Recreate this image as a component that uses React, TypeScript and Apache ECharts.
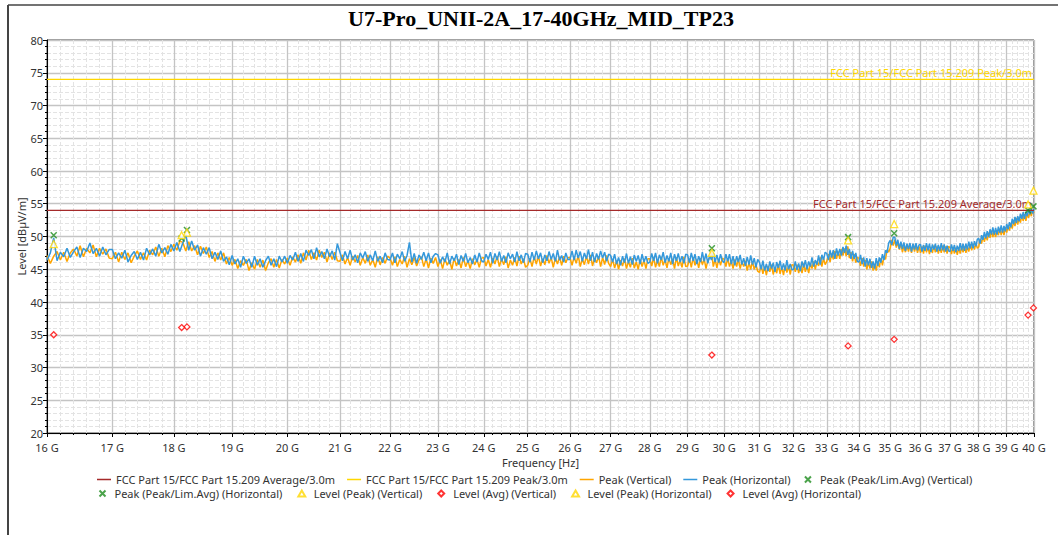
import React, { useEffect, useRef } from 'react';
import * as echarts from 'echarts';

const TITLE = 'U7-Pro_UNII-2A_17-40GHz_MID_TP23';
const X_NAME = 'Frequency [Hz]';
const Y_NAME = 'Level [dBµV/m]';

// sweep: 16 GHz .. 40 GHz, 0.05 GHz per point
const F_START_GHZ = 16;
const F_STEP_GHZ = 0.05;

const X_TICKS_GHZ = [16, 17, 18, 19, 20, 21, 22, 23, 24, 25, 26, 27, 28, 29, 30, 31, 32, 33, 34, 35, 36, 37, 38, 39, 40];
const X_MINOR_STEPS = [0.2, 0.4, 0.6, 0.8];
const Y_MIN = 20;
const Y_MAX = 80;
const Y_INTERVAL = 5;

const LIMIT_AVG_NAME = 'FCC Part 15/FCC Part 15.209 Average/3.0m';
const LIMIT_PEAK_NAME = 'FCC Part 15/FCC Part 15.209 Peak/3.0m';
const LIMIT_AVG = 54;
const LIMIT_PEAK = 74;

// Peak (Vertical) trace, one row per GHz (20 points each)
const peakVertical = [
  47.1, 45.9, 47.0, 47.7, 46.4, 47.6, 46.2, 47.5, 48.1, 47.0, 48.6, 46.9, 48.2, 47.5, 48.7, 46.9, 48.2, 47.3, 48.1, 46.7,
  46.6, 47.6, 46.1, 47.6, 46.5, 47.5, 46.0, 47.0, 47.8, 46.5, 47.5, 46.4, 47.9, 47.2, 48.4, 47.0, 48.2, 46.9, 48.6, 47.7,
  48.8, 47.9, 49.3, 49.1, 47.8, 49.2, 47.8, 48.6, 47.2, 48.5, 47.4, 48.4, 46.8, 47.7, 46.2, 47.5, 46.4, 47.5, 45.8, 46.8,
  45.6, 46.5, 45.1, 46.3, 45.6, 46.5, 44.8, 46.0, 45.0, 46.5, 45.3, 46.4, 44.8, 46.0, 46.6, 45.3, 46.5, 45.2, 46.5, 45.8,
  46.7, 45.6, 46.9, 46.1, 47.2, 45.9, 47.5, 46.4, 47.9, 46.5, 47.5, 46.4, 47.9, 46.8, 47.6, 46.1, 47.5, 46.5, 47.6, 46.3,
  46.2, 47.2, 45.8, 46.8, 45.6, 47.0, 46.1, 47.1, 45.6, 46.8, 45.9, 47.2, 45.6, 46.5, 45.3, 46.9, 45.7, 46.8, 45.9, 47.0,
  46.7, 45.6, 46.9, 45.4, 46.5, 45.8, 47.0, 45.3, 46.6, 45.7, 46.8, 45.5, 46.4, 46.9, 45.4, 46.6, 45.2, 46.7, 45.9, 46.8,
  45.4, 46.5, 45.1, 46.6, 45.6, 46.4, 45.0, 46.7, 45.5, 46.5, 45.2, 46.8, 45.4, 46.3, 45.1, 46.6, 45.7, 46.5, 45.3, 46.7,
  46.8, 45.5, 46.5, 45.3, 46.7, 45.8, 47.0, 45.4, 46.6, 45.7, 46.9, 45.2, 46.4, 45.6, 46.8, 45.5, 47.0, 45.8, 46.6, 45.3,
  45.6, 46.7, 45.4, 46.9, 45.8, 47.0, 45.5, 46.6, 45.7, 47.1, 45.9, 46.8, 45.3, 46.7, 45.8, 46.9, 45.6, 47.0, 46.0, 46.8,
  46.8, 45.6, 46.9, 45.9, 47.1, 45.4, 46.6, 45.7, 47.0, 45.8, 47.2, 45.5, 46.7, 46.0, 47.0, 45.4, 46.8, 45.7, 47.1, 45.9,
  45.4, 46.5, 45.2, 46.3, 45.0, 46.4, 45.5, 46.6, 45.1, 46.2, 45.3, 46.7, 45.2, 46.1, 45.0, 46.5, 45.4, 46.4, 45.1, 46.6,
  46.6, 45.5, 46.8, 45.3, 46.4, 45.4, 46.9, 45.6, 46.5, 45.2, 46.7, 45.7, 46.6, 45.1, 46.8, 45.5, 46.4, 45.3, 46.9, 45.4,
  45.5, 46.6, 45.3, 46.8, 45.6, 46.5, 45.2, 46.7, 45.7, 46.6, 45.1, 46.4, 46.7, 47.8, 45.4, 46.5, 45.2, 46.6, 45.6, 46.7,
  46.5, 45.4, 46.7, 45.4, 46.3, 45.1, 46.5, 45.4, 46.6, 45.1, 46.2, 45.4, 46.3, 44.8, 46.0, 45.0, 46.2, 45.0, 45.7, 44.7,
  44.5, 45.6, 44.3, 45.4, 44.1, 45.5, 44.6, 45.7, 44.2, 45.3, 44.4, 45.8, 44.3, 45.4, 44.1, 45.6, 44.5, 45.5, 44.2, 45.7,
  45.6, 44.6, 45.7, 44.4, 45.5, 44.4, 45.9, 44.6, 45.6, 44.4, 45.9, 45.1, 46.2, 45.0, 46.2, 45.5, 46.8, 45.4, 46.7, 45.7,
  46.2, 47.3, 46.1, 47.4, 46.5, 47.8, 46.6, 47.7, 46.6, 48.1, 47.1, 48.2, 47.0, 48.5, 46.7, 47.6, 46.2, 47.3, 46.0, 46.8,
  46.7, 45.5, 46.7, 45.4, 46.4, 45.0, 46.1, 45.1, 46.2, 44.8, 45.8, 44.8, 46.2, 45.3, 46.7, 45.6, 47.0, 46.5, 48.0, 47.6,
  48.2, 49.5, 48.6, 49.5, 48.3, 49.1, 48.0, 49.0, 47.6, 48.5, 47.6, 48.7, 47.7, 48.6, 47.5, 48.8, 47.7, 48.6, 47.5, 48.5,
  47.5, 48.5, 47.4, 48.6, 47.6, 48.5, 47.3, 48.4, 47.5, 48.6, 47.6, 48.5, 47.4, 48.4, 47.5, 48.6, 47.6, 48.5, 47.4, 48.5,
  48.3, 47.3, 48.4, 47.4, 48.3, 47.2, 48.3, 47.4, 48.5, 47.6, 48.5, 47.5, 48.5, 47.7, 48.8, 47.9, 48.9, 48.0, 49.0, 48.2,
  48.4, 49.6, 48.9, 50.1, 49.2, 50.2, 49.4, 50.6, 49.8, 50.9, 49.9, 50.8, 49.9, 51.0, 50.2, 51.2, 50.2, 51.1, 50.2, 51.4,
  50.6, 51.7, 50.9, 52.0, 51.2, 52.4, 51.6, 52.8, 51.8, 52.9, 52.1, 53.3, 52.4, 53.4, 52.4, 53.6, 52.8, 53.9, 53.1, 54.0,
  53.6,
];

// Peak (Horizontal) trace, one row per GHz (20 points each)
const peakHorizontal = [
  46.4, 47.5, 49.8, 46.3, 47.6, 46.9, 48.2, 46.8, 47.7, 48.4, 46.8, 48.2, 47.7, 49.0, 47.4, 48.2, 47.0, 48.4, 47.2, 48.0,
  48.0, 46.6, 47.5, 46.7, 47.9, 46.1, 47.1, 47.7, 46.5, 47.6, 46.4, 48.2, 47.2, 48.1, 47.0, 48.8, 47.5, 48.3, 47.3, 48.8,
  47.8, 49.1, 47.7, 49.0, 50.3, 47.9, 49.3, 47.9, 48.7, 47.0, 48.3, 47.3, 48.3, 46.6, 47.6, 46.5, 47.8, 46.2, 46.9, 45.7,
  47.1, 45.8, 46.6, 45.3, 47.0, 45.9, 46.6, 45.3, 47.0, 45.6, 46.6, 45.3, 46.3, 47.0, 45.6, 46.6, 45.4, 47.0, 46.1, 47.0,
  45.9, 47.1, 46.4, 47.6, 46.2, 47.4, 46.2, 47.9, 47.1, 48.0, 46.6, 48.3, 46.9, 47.7, 46.6, 48.1, 46.9, 47.8, 46.4, 48.9,
  47.6, 46.3, 47.7, 46.6, 47.9, 46.4, 47.2, 46.0, 47.5, 46.7, 47.7, 46.2, 47.2, 46.3, 47.8, 46.2, 47.0, 46.0, 47.5, 46.5,
  46.4, 47.5, 46.0, 47.3, 46.6, 47.7, 46.2, 47.1, 49.1, 46.1, 47.4, 45.9, 47.2, 46.5, 47.6, 46.3, 47.5, 46.0, 47.0, 47.4,
  47.2, 45.9, 46.9, 46.1, 47.5, 45.8, 47.0, 46.3, 47.3, 45.7, 47.1, 46.2, 47.4, 46.0, 46.8, 45.8, 47.2, 46.1, 47.5, 46.3,
  46.1, 47.3, 46.5, 47.6, 45.9, 47.4, 46.4, 47.7, 46.2, 47.1, 46.0, 47.5, 46.6, 47.3, 46.1, 47.7, 46.3, 47.2, 46.0, 47.4,
  47.3, 46.1, 47.6, 46.4, 47.8, 46.6, 47.5, 46.0, 47.2, 46.3, 47.7, 46.5, 47.4, 46.2, 47.9, 46.4, 47.1, 46.1, 47.5, 46.5,
  46.5, 47.8, 46.4, 47.9, 46.7, 47.7, 46.2, 47.5, 46.6, 48.0, 46.3, 47.6, 46.1, 47.4, 46.5, 47.8, 46.7, 47.6, 46.2, 47.3,
  47.1, 46.1, 47.3, 45.8, 46.8, 45.6, 47.0, 46.0, 47.4, 45.9, 46.9, 45.7, 47.2, 46.2, 47.1, 45.8, 47.3, 46.1, 47.0, 45.9,
  46.1, 47.4, 46.3, 47.5, 45.9, 47.2, 46.4, 47.6, 46.0, 47.1, 46.2, 47.5, 45.8, 47.3, 46.3, 47.4, 46.1, 47.0, 45.9, 47.3,
  47.2, 46.0, 47.5, 46.3, 47.3, 45.8, 47.0, 46.1, 47.6, 46.2, 47.4, 45.9, 47.1, 46.4, 47.5, 46.1, 47.2, 46.0, 47.3, 46.3,
  46.0, 47.3, 46.2, 47.3, 45.8, 47.0, 45.6, 47.0, 46.1, 47.2, 45.7, 46.7, 45.5, 46.9, 45.7, 47.1, 45.7, 46.7, 45.3, 46.5,
  46.1, 45.0, 46.3, 44.8, 45.8, 44.7, 46.2, 45.1, 46.0, 44.6, 46.1, 45.2, 46.3, 44.9, 45.9, 44.8, 46.4, 45.0, 45.8, 44.9,
  45.0, 46.2, 44.9, 45.9, 44.7, 46.2, 45.3, 46.4, 45.0, 46.2, 45.4, 46.8, 45.4, 46.4, 45.7, 47.1, 45.7, 47.2, 46.4, 47.6,
  47.4, 46.4, 47.9, 46.8, 47.9, 46.6, 48.2, 47.1, 48.1, 47.1, 48.4, 47.5, 48.6, 47.2, 48.1, 46.6, 47.8, 46.6, 47.5, 46.2,
  46.1, 47.2, 45.8, 46.8, 45.4, 46.7, 45.6, 46.6, 45.2, 46.2, 45.1, 46.7, 45.5, 46.8, 46.0, 47.3, 46.4, 47.9, 47.5, 49.0,
  49.4, 48.7, 49.9, 49.9, 48.6, 49.5, 48.1, 49.2, 48.1, 49.1, 47.8, 48.9, 48.1, 49.0, 47.7, 48.9, 48.0, 49.0, 47.9, 48.7,
  48.8, 47.7, 48.7, 47.8, 49.0, 47.9, 48.9, 47.6, 48.8, 48.0, 48.9, 47.7, 48.7, 47.8, 49.0, 47.9, 48.8, 47.7, 48.6, 47.8,
  47.7, 48.8, 47.8, 48.7, 47.6, 48.6, 47.8, 49.0, 47.9, 48.9, 47.8, 48.9, 48.0, 49.2, 48.2, 49.2, 48.2, 49.3, 48.5, 49.6,
  49.7, 48.9, 50.2, 49.5, 50.7, 49.7, 50.8, 49.9, 51.1, 50.3, 51.4, 50.3, 51.3, 50.3, 51.5, 50.6, 51.7, 50.6, 51.6, 50.8,
  51.9, 51.1, 52.2, 51.4, 52.7, 51.9, 53.0, 52.1, 53.1, 52.3, 53.5, 52.7, 53.7, 52.7, 53.8, 53.1, 54.2, 53.4, 54.3, 53.5,
  54.2,
];

// final measurement markers [GHz, dBµV/m]
const pkLimAvgVertical = [[18.22, 51.0], [29.66, 48.2], [33.66, 49.9], [39.98, 54.6]];
const pkLimAvgHorizontal = [[16.1, 50.2], [18.13, 49.7], [35.13, 50.5], [39.78, 54.0]];
const levelPeakVertical = [[18.22, 50.6], [29.66, 47.5], [33.66, 49.4], [39.98, 57.0]];
const levelPeakHorizontal = [[16.1, 48.85], [18.13, 50.2], [35.13, 51.9], [39.78, 54.9]];
const levelAvgVertical = [[18.22, 36.2], [29.66, 31.9], [33.66, 33.3], [39.98, 39.1]];
const levelAvgHorizontal = [[16.1, 35.0], [18.13, 36.1], [35.13, 34.3], [39.78, 38.0]];

const lg = (f: number) => Math.log10(f);
const trace = (vals: number[]) => vals.map((v, i) => [lg(F_START_GHZ + i * F_STEP_GHZ), v]);
const pts = (arr: number[][]) => arr.map(([f, v]) => [lg(f), v]);

const X_MIN = lg(X_TICKS_GHZ[0]);
const X_MAX = lg(X_TICKS_GHZ[X_TICKS_GHZ.length - 1]);
const MAJOR_X = X_TICKS_GHZ.map(lg);
const MINOR_X: number[] = [];
X_TICKS_GHZ.slice(0, -1).forEach((g) => X_MINOR_STEPS.forEach((s) => MINOR_X.push(lg(g + s))));

const FONT = 'Noto Sans';
const TXT = '#333333';
const C_AVG = '#A52A2A';
const C_PEAK = '#FFD700';
const C_ORANGE = '#FFA500';
const C_BLUE = '#3498DB';
const C_GREEN = '#1E8C1E';
const C_RED = '#FF0000';
const X_SYMBOL = 'path://M0,0L10,10M10,0L0,10';
const ICON_LINE = 'path://M0,0L24,0L24,2.6L0,2.6Z';
const ICON_TRI = 'path://M5,0L10,8.66L0,8.66Z';
const ICON_DIA = 'path://M5,0L10,5L5,10L0,5Z';

export default function App() {
  const ref = useRef<HTMLDivElement>(null);
  useEffect(() => {
    if (!ref.current) return;
    const chart = echarts.init(ref.current, undefined, { renderer: 'svg' });
    const xMarker = (name: string, data: number[][]) => ({
      name, type: 'scatter', data: pts(data), symbol: X_SYMBOL, symbolSize: 6, clip: false, z: 5,
      itemStyle: { color: 'none', borderColor: C_GREEN, borderWidth: 1.5 },
    });
    const hollow = (name: string, data: number[][], symbol: string, size: number, color: string) => ({
      name, type: 'scatter', data: pts(data), symbol, symbolSize: size, clip: false, z: 5,
      itemStyle: { color: '#ffffff', borderColor: color, borderWidth: 1.3 },
    });
    const limit = (name: string, value: number, color: string) => ({
      name, type: 'line', data: [[X_MIN, value], [X_MAX, value]], symbol: 'none',
      lineStyle: { color, width: 1.2 }, itemStyle: { color }, z: 3,
      markLine: {
        silent: true, symbol: 'none', data: [{ yAxis: value }],
        lineStyle: { color, width: 1.2, type: 'solid' },
        label: { position: 'insideEndTop', formatter: name, color, fontFamily: FONT, fontSize: 11, distance: [2, 1] },
      },
    });
    const legendCommon = {
      left: 92, itemWidth: 14, itemHeight: 6, itemGap: 12,
      textStyle: { fontFamily: FONT, fontSize: 11, color: TXT },
    };
    chart.setOption({
      animation: false,
      title: {
        text: TITLE, left: 536, top: 2, textAlign: 'center',
        textStyle: { fontFamily: 'Liberation Serif', fontWeight: 'bold', fontSize: 22, color: '#000' },
      },
      graphic: [
        { type: 'line', shape: { x1: 8, y1: 5, x2: 1058, y2: 5 }, style: { stroke: '#444', lineWidth: 1.5 } },
        { type: 'line', shape: { x1: 8, y1: 5, x2: 8, y2: 535 }, style: { stroke: '#444', lineWidth: 2 } },
      ],
      grid: { left: 47, right: 24, top: 40, bottom: 102, show: true, borderColor: '#333', borderWidth: 1 },
      legend: [
        {
          ...legendCommon, top: 469,
          data: [
            { name: LIMIT_AVG_NAME, icon: ICON_LINE },
            { name: LIMIT_PEAK_NAME, icon: ICON_LINE },
            { name: 'Peak (Vertical)', icon: ICON_LINE },
            { name: 'Peak (Horizontal)', icon: ICON_LINE },
            { name: 'Peak (Peak/Lim.Avg) (Vertical)', icon: X_SYMBOL },
          ],
        },
        {
          ...legendCommon, top: 483, itemGap: 15,
          data: [
            { name: 'Peak (Peak/Lim.Avg) (Horizontal)', icon: X_SYMBOL },
            { name: 'Level (Peak) (Vertical)', icon: ICON_TRI },
            { name: 'Level (Avg) (Vertical)', icon: ICON_DIA },
            { name: 'Level (Peak) (Horizontal)', icon: ICON_TRI },
            { name: 'Level (Avg) (Horizontal)', icon: ICON_DIA },
          ],
        },
      ],
      xAxis: [
        {
          type: 'value', min: X_MIN, max: X_MAX,
          name: X_NAME, nameLocation: 'middle', nameGap: 24, nameMoveOverlap: false,
          nameTextStyle: { fontFamily: FONT, fontSize: 11, color: TXT },
          axisLine: { show: true, lineStyle: { color: '#000', width: 1 } },
          axisTick: { show: true, length: 4, customValues: MAJOR_X, lineStyle: { color: '#000' } },
          axisLabel: {
            customValues: MAJOR_X, margin: 8, lineHeight: 12, fontFamily: FONT, fontSize: 11, color: TXT,
            formatter: (v: number) => Math.round(Math.pow(10, v)) + ' G',
          },
          splitLine: { show: true, lineStyle: { color: '#c4c4c4', width: 1.3 } },
        },
        {
          type: 'value', min: X_MIN, max: X_MAX, position: 'bottom',
          axisLine: { show: false },
          axisTick: { show: true, length: 2, customValues: MINOR_X, lineStyle: { color: '#000' } },
          axisLabel: { show: false },
          splitLine: { show: true, lineStyle: { color: '#e3e3e3', width: 1, type: 'dashed' } },
        },
      ],
      yAxis: {
        type: 'value', min: Y_MIN, max: Y_MAX, interval: Y_INTERVAL,
        name: Y_NAME, nameLocation: 'middle', nameGap: 20, nameMoveOverlap: false,
        nameTextStyle: { fontFamily: FONT, fontSize: 11, color: TXT },
        axisLine: { show: true, lineStyle: { color: '#000', width: 1 } },
        axisTick: { show: true, length: 4, lineStyle: { color: '#000' } },
        minorTick: { show: true, splitNumber: 5, length: 2, lineStyle: { color: '#000' } },
        axisLabel: { margin: 4, lineHeight: 11, fontFamily: FONT, fontSize: 11, color: TXT },
        splitLine: { show: true, lineStyle: { color: '#c4c4c4', width: 1.3 } },
        minorSplitLine: { show: true, lineStyle: { color: '#e3e3e3', width: 1, type: 'dashed' } },
      },
      series: [
        limit(LIMIT_AVG_NAME, LIMIT_AVG, C_AVG),
        limit(LIMIT_PEAK_NAME, LIMIT_PEAK, C_PEAK),
        {
          name: 'Peak (Vertical)', type: 'line', data: trace(peakVertical), symbol: 'none',
          lineStyle: { color: C_ORANGE, width: 1.5 }, itemStyle: { color: C_ORANGE }, z: 2,
        },
        {
          name: 'Peak (Horizontal)', type: 'line', data: trace(peakHorizontal), symbol: 'none',
          lineStyle: { color: C_BLUE, width: 1.5 }, itemStyle: { color: C_BLUE }, z: 2,
        },
        xMarker('Peak (Peak/Lim.Avg) (Vertical)', pkLimAvgVertical),
        xMarker('Peak (Peak/Lim.Avg) (Horizontal)', pkLimAvgHorizontal),
        hollow('Level (Peak) (Vertical)', levelPeakVertical, 'triangle', 7, C_PEAK),
        hollow('Level (Avg) (Vertical)', levelAvgVertical, 'diamond', 6, C_RED),
        hollow('Level (Peak) (Horizontal)', levelPeakHorizontal, 'triangle', 7, C_PEAK),
        hollow('Level (Avg) (Horizontal)', levelAvgHorizontal, 'diamond', 6, C_RED),
      ],
    });
    return () => chart.dispose();
  }, []);
  return <div ref={ref} style={{ position: 'absolute', left: 0, top: 0, width: 1058, height: 535 }} />;
}
